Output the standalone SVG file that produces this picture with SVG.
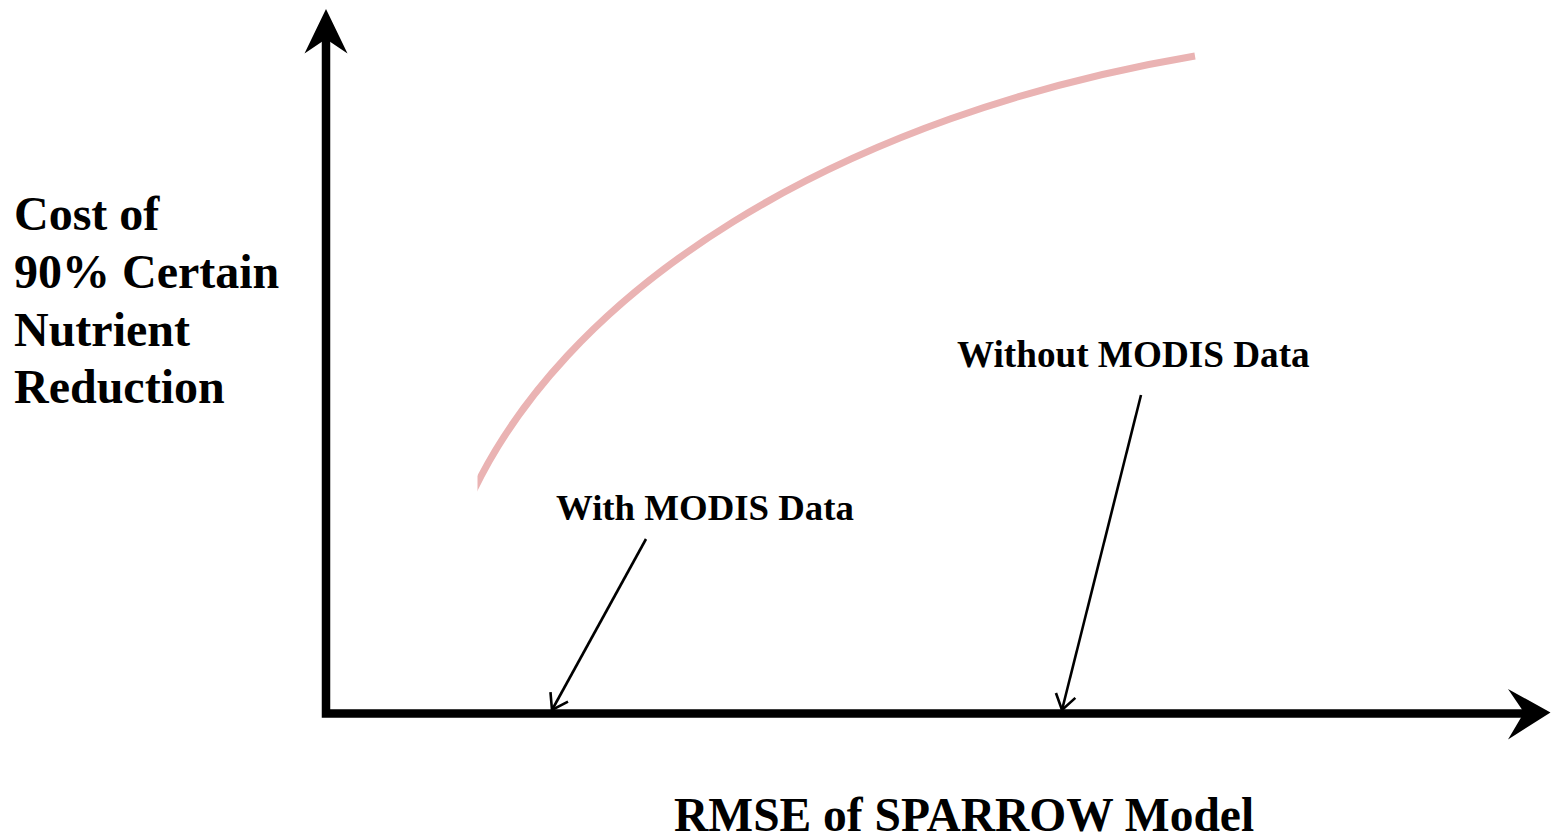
<svg xmlns="http://www.w3.org/2000/svg" width="1551" height="838" viewBox="0 0 1551 838">
  <style>
    .lbl { font-family: "Liberation Serif", "Times New Roman", serif; font-weight: bold; fill: #000; }
    .axis { fill: none; stroke: #000; stroke-width: 8.5; stroke-linejoin: miter; stroke-linecap: butt; }
    .head { fill: #000; stroke: none; }
    .ann { fill: none; stroke: #000; stroke-width: 2.6; }
    .curve { fill: none; stroke: #eab3b3; stroke-width: 7; }
  </style>
  <defs>
    <marker id="open" markerUnits="userSpaceOnUse" markerWidth="30" markerHeight="30" refX="0" refY="0" viewBox="-20 -15 25 30" orient="auto">
      <path d="M -15 -10 L 0 0 L -15 10" fill="none" stroke="#000" stroke-width="2.6"/>
    </marker>
    <clipPath id="cclip">
      <rect x="477.5" y="0" width="1074" height="838"/>
    </clipPath>
  </defs>
  <rect width="1551" height="838" fill="#fff"/>

  <g id="axes">
    <path class="axis" d="M 326 38 V 713.5 H 1527"/>
    <path class="head" d="M 326 9 L 347.5 53.5 L 326 39 L 304.5 53.5 Z"/>
    <path class="head" d="M 1550.5 712.5 L 1508 689 L 1524 712.5 L 1508 739.5 Z"/>
  </g>

  <g id="curve">
    <path class="curve" clip-path="url(#cclip)" d="M 466.4 506.4 A 1040 640 0 0 1 1195 56"/>
  </g>

  <g id="connectors">
    <line class="ann" x1="646" y1="539" x2="552" y2="710" marker-end="url(#open)"/>
    <line class="ann" x1="1141" y1="395" x2="1062" y2="710" marker-end="url(#open)"/>
  </g>

  <g id="y-label">
    <text class="lbl" x="14" y="230" font-size="48">Cost of</text>
    <text class="lbl" x="14" y="288" font-size="48">90% Certain</text>
    <text class="lbl" x="14" y="346" font-size="48">Nutrient</text>
    <text class="lbl" x="14" y="403" font-size="48">Reduction</text>
  </g>

  <g id="x-label">
    <text class="lbl" x="674" y="831" font-size="47.5">RMSE of SPARROW Model</text>
  </g>

  <g id="with-modis">
    <text class="lbl" x="556" y="520" font-size="36.8">With MODIS Data</text>
  </g>

  <g id="without-modis">
    <text class="lbl" x="957" y="367" font-size="37.2">Without MODIS Data</text>
  </g>
</svg>
